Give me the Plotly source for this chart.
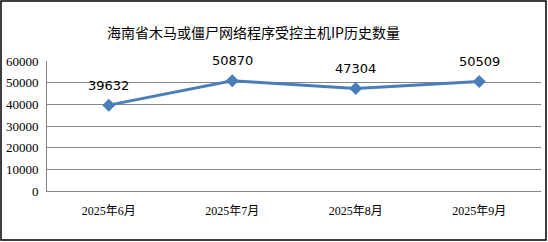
import plotly.graph_objects as go

months = ["2025年6月", "2025年7月", "2025年8月", "2025年9月"]
counts = [39632, 50870, 47304, 50509]
y_ticks = [0, 10000, 20000, 30000, 40000, 50000, 60000]
title_text = "海南省木马或僵尸网络程序受控主机IP历史数量"

W, H = 548, 242
ml, mr, mt, mb = 47, 7, 61, 51
pw, ph = W - ml - mr, H - mt - mb

color = "#4A7EBB"

fig = go.Figure()
fig.add_trace(go.Scatter(
    x=months, y=counts, mode="lines+markers",
    line=dict(color=color, width=3),
    marker=dict(symbol="diamond", size=10, color=color),
    hoverinfo="skip", showlegend=False,
))

annotations = [
    dict(x=m, y=v, xref="x", yref="y", text=str(v), showarrow=False,
         yshift=20, font=dict(family="DejaVu Sans", size=13, color="#000000"))
    for m, v in zip(months, counts)
]
annotations.append(dict(
    x=(253 - ml) / pw, y=(H - 32 - mb) / ph, xref="paper", yref="paper",
    text=title_text, showarrow=False, xanchor="center", yanchor="middle",
    font=dict(family="Noto Sans CJK SC", size=14, color="#000000"),
))

fig.update_layout(
    width=W, height=H,
    margin=dict(l=ml, r=mr, t=mt, b=mb),
    paper_bgcolor="white", plot_bgcolor="white",
    annotations=annotations,
    xaxis=dict(
        type="category", range=[-0.5, 3.5], showgrid=False,
        showline=True, linecolor="#868686", linewidth=1,
        ticks="", ticklabelstandoff=9,
        tickfont=dict(family="Liberation Serif, Noto Sans CJK SC", size=12, color="#000000"),
        fixedrange=True,
    ),
    yaxis=dict(
        range=[0, 60000], tickvals=y_ticks, ticktext=[str(t) for t in y_ticks],
        showgrid=True, gridcolor="#868686", gridwidth=1,
        showline=True, linecolor="#868686", linewidth=1,
        zeroline=False, ticks="", ticklen=0, ticklabelstandoff=5,
        tickfont=dict(family="Liberation Serif", size=13, color="#000000"),
        fixedrange=True,
    ),
    shapes=[dict(
        type="rect", xref="paper", yref="paper",
        x0=(1 - ml) / pw, x1=(546 - ml) / pw,
        y0=(H - 240 - mb) / ph, y1=(H - 1 - mb) / ph,
        line=dict(color="#000000", width=1.5), layer="above",
    )],
)

fig.write_html("out.html")
